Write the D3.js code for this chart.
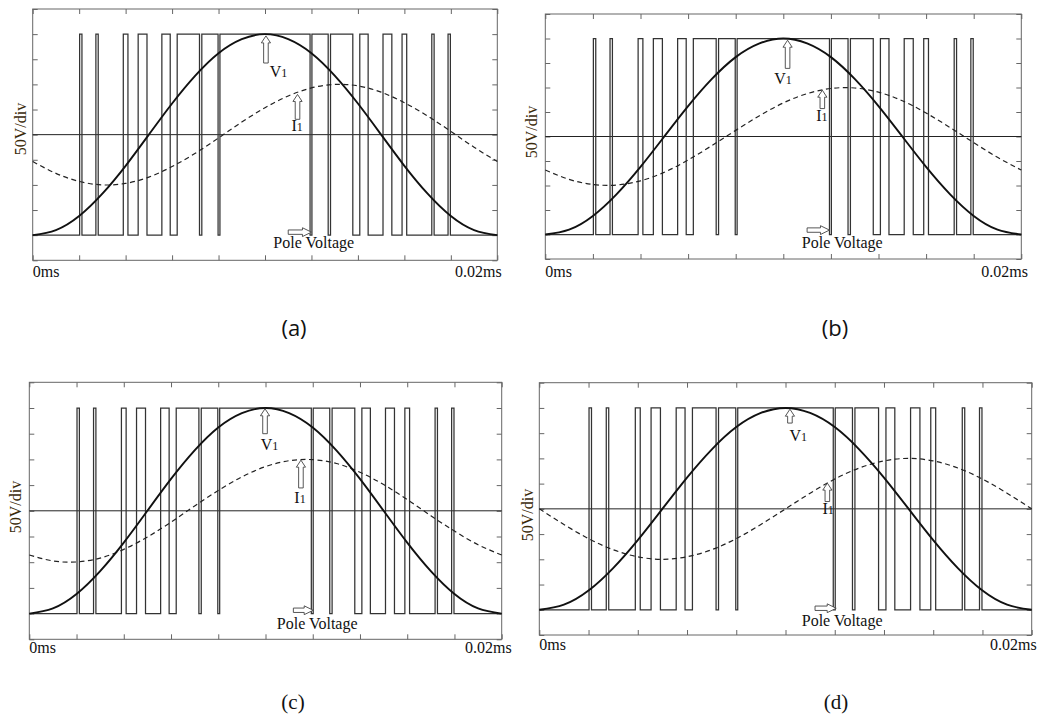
<!DOCTYPE html>
<html>
<head>
<meta charset="utf-8">
<script src="https://cdn.jsdelivr.net/npm/d3@7"></script>
<style>
  body { margin: 0; background: #fff; }
  text { font-family: "Liberation Serif", "Times New Roman", serif; }
</style>
</head>
<body>
<svg id="chart" width="1039" height="715"></svg>
<script>
// values in scope divisions: time 0..10 div (0 .. 0.02ms), voltage -5..5 div
let time_labels = ["0ms", "0.02ms"]
let y_label = "50V/div"
let captions = ["(a)", "(b)", "(c)", "(d)"]

let x_ticks = [0, 1, 2, 3, 4, 5, 6, 7, 8, 9, 10]
let y_ticks = [-5, -4, -3, -2, -1, 0, 1, 2, 3, 4, 5]

let sample_times = [0, 0.5, 1, 1.5, 2, 2.5, 3, 3.5, 4, 4.5, 5,
                    5.5, 6, 6.5, 7, 7.5, 8, 8.5, 9, 9.5, 10]

let v1_values = [-4.00, -3.80, -3.24, -2.35, -1.24, 0.00, 1.24, 2.35, 3.24, 3.80, 4.00,
                 3.80, 3.24, 2.35, 1.24, 0.00, -1.24, -2.35, -3.24, -3.80, -4.00]

let i1_a = [-1.07, -1.54, -1.86, -2.00, -1.94, -1.69, -1.27, -0.74, -0.13, 0.50, 1.07,
            1.54, 1.86, 2.00, 1.94, 1.69, 1.27, 0.74, 0.13, -0.50, -1.07]
let i1_b = [-1.37, -1.75, -1.96, -1.98, -1.81, -1.46, -0.96, -0.37, 0.25, 0.85, 1.37,
            1.75, 1.96, 1.98, 1.81, 1.46, 0.96, 0.37, -0.25, -0.85, -1.37]
let i1_c = [-1.72, -1.95, -1.99, -1.84, -1.50, -1.02, -0.44, 0.19, 0.79, 1.32, 1.72,
            1.95, 1.99, 1.84, 1.50, 1.02, 0.44, -0.19, -0.79, -1.32, -1.72]
let i1_d = [0.00, -0.62, -1.18, -1.62, -1.90, -2.00, -1.90, -1.62, -1.18, -0.62, 0.00,
            0.62, 1.18, 1.62, 1.90, 2.00, 1.90, 1.62, 1.18, 0.62, 0.00]

// pole voltage switching instants (starts low), and its two levels
let pole_edges = [1.01, 1.06, 1.36, 1.41, 1.95, 2.05, 2.27, 2.46, 2.78, 2.96,
                  3.11, 3.59, 3.64, 3.99, 4.03, 5.97, 6.01, 6.36, 6.41, 6.89,
                  7.04, 7.22, 7.54, 7.73, 7.95, 8.05, 8.59, 8.64, 8.94, 8.99]
let pole_levels = [-4, 4]

// layout of the four scope frames and their annotations (data coords)
let panels = [
  { left: 32.7, right: 497.3, top: 9, bottom: 260.3, i1: i1_a,
    tick_dy: 17, end_dx: 4.4, ylab: [25.5, 129], cap: [294, 336], cap_font: "Open Sans", cap_size: 22,
    v1_arrow: [5.02, 3.93, 2.85], v1_label: [5.1, 2.3],
    i1_arrow: [5.70, 1.6, 0.61], i1_label: [5.57, 0.15],
    pole_arrow: [5.50, 6.0, -3.88], pole_label: [5.18, -4.52] },
  { left: 545.3, right: 1021.3, top: 14, bottom: 259, i1: i1_b,
    tick_dy: 17.5, end_dx: 6.7, ylab: [537, 132], cap: [835, 336], cap_font: "Open Sans", cap_size: 22,
    v1_arrow: [5.09, 3.93, 2.78], v1_label: [4.81, 2.16],
    i1_arrow: [5.82, 1.89, 1.14], i1_label: [5.69, 0.64],
    pole_arrow: [5.50, 5.97, -3.82], pole_label: [5.39, -4.57] },
  { left: 29.3, right: 501.7, top: 382.3, bottom: 639.3, i1: i1_c,
    tick_dy: 14, end_dx: 10, ylab: [21, 507], cap: [293, 709], cap_font: "Liberation Serif", cap_size: 21,
    v1_arrow: [4.99, 3.97, 3.0], v1_label: [4.9, 2.36],
    i1_arrow: [5.75, 1.97, 0.89], i1_label: [5.61, 0.29],
    pole_arrow: [5.59, 6.01, -3.87], pole_label: [5.24, -4.59] },
  { left: 539.3, right: 1031.7, top: 382.7, bottom: 635, i1: i1_d,
    tick_dy: 15, end_dx: 5, ylab: [533, 515], cap: [836, 709], cap_font: "Liberation Serif", cap_size: 21,
    v1_arrow: [5.09, 3.95, 3.4], v1_label: [5.08, 2.69],
    i1_arrow: [5.85, 1.02, 0.29], i1_label: [5.75, -0.2],
    pole_arrow: [5.6, 6.03, -3.94], pole_label: [5.33, -4.64] }
]

let svg = d3.select("#chart")

function up_arrow(x, y_tip, y_tail) {
  let sw = 2.3, hw = 4.6, hl = 7
  return "M" + x + "," + y_tip +
    "L" + (x + hw) + "," + (y_tip + hl) + "L" + (x + sw) + "," + (y_tip + hl) +
    "L" + (x + sw) + "," + y_tail + "L" + (x - sw) + "," + y_tail +
    "L" + (x - sw) + "," + (y_tip + hl) + "L" + (x - hw) + "," + (y_tip + hl) + "Z"
}

function right_arrow(x_tail, x_tip, y) {
  let sw = 2.2, hw = 4.4, hl = 9
  return "M" + x_tip + "," + y +
    "L" + (x_tip - hl) + "," + (y - hw) + "L" + (x_tip - hl) + "," + (y - sw) +
    "L" + x_tail + "," + (y - sw) + "L" + x_tail + "," + (y + sw) +
    "L" + (x_tip - hl) + "," + (y + sw) + "L" + (x_tip - hl) + "," + (y + hw) + "Z"
}

function sub_label(g, x, y, main, sub) {
  let t = g.append("text")
      .attr("x", x)
      .attr("y", y)
      .style("font-size", "16px")
      .style("fill", "#111")
  t.append("tspan").text(main)
  t.append("tspan").text(sub).style("font-size", "12px")
}

panels.forEach(function(p, k) {
  let x = d3.scaleLinear().domain([0, 10]).range([p.left, p.right])
  let y = d3.scaleLinear().domain([-5, 5]).range([p.bottom, p.top])
  let g = svg.append("g")

  // inward ticks on all four sides
  let axes = [
    [d3.axisBottom(x).tickValues(x_ticks), "translate(0," + p.top + ")"],
    [d3.axisTop(x).tickValues(x_ticks), "translate(0," + p.bottom + ")"],
    [d3.axisRight(y).tickValues(y_ticks), "translate(" + p.left + ",0)"],
    [d3.axisLeft(y).tickValues(y_ticks), "translate(" + p.right + ",0)"]
  ]
  axes.forEach(function(a) {
    let ax = g.append("g")
        .attr("transform", a[1])
        .call(a[0].tickSize(5).tickFormat(""))
    ax.select(".domain").remove()
    ax.selectAll("line").style("stroke", "#666").style("stroke-width", 1)
  })

  g.append("rect")
      .attr("x", p.left)
      .attr("y", p.top)
      .attr("width", p.right - p.left)
      .attr("height", p.bottom - p.top)
      .style("fill", "none")
      .style("stroke", "#666")
      .style("stroke-width", 1)

  g.append("line")
      .attr("x1", x(0)).attr("x2", x(10))
      .attr("y1", y(0)).attr("y2", y(0))
      .style("stroke", "#222")
      .style("stroke-width", 1)

  // pole voltage as a step trace
  let level = 0
  let pole_pts = [[0, pole_levels[0]]]
  pole_edges.forEach(function(e) {
    level = 1 - level
    pole_pts.push([e, pole_levels[level]])
  })
  pole_pts.push([10, pole_levels[level]])

  g.append("path")
      .datum(pole_pts)
      .attr("d", d3.line()
        .x(function(d) { return x(d[0]) })
        .y(function(d) { return y(d[1]) })
        .curve(d3.curveStepAfter))
      .style("fill", "none")
      .style("stroke", "#333")
      .style("stroke-width", 1.25)

  let curve = d3.line()
      .x(function(d) { return x(d[0]) })
      .y(function(d) { return y(d[1]) })
      .curve(d3.curveNatural)

  g.append("path")
      .datum(sample_times.map(function(t, i) { return [t, p.i1[i]] }))
      .attr("d", curve)
      .style("fill", "none")
      .style("stroke", "#222")
      .style("stroke-width", 1.2)
      .style("stroke-dasharray", "5,3.5")

  g.append("path")
      .datum(sample_times.map(function(t, i) { return [t, v1_values[i]] }))
      .attr("d", curve)
      .style("fill", "none")
      .style("stroke", "#111")
      .style("stroke-width", 1.9)

  // annotations
  let arrow_style = function(s) {
    s.style("fill", "#fff").style("stroke", "#444").style("stroke-width", 0.9)
  }
  g.append("path")
      .attr("d", up_arrow(x(p.v1_arrow[0]), y(p.v1_arrow[1]), y(p.v1_arrow[2])))
      .call(arrow_style)
  g.append("path")
      .attr("d", up_arrow(x(p.i1_arrow[0]), y(p.i1_arrow[1]), y(p.i1_arrow[2])))
      .call(arrow_style)
  g.append("path")
      .attr("d", right_arrow(x(p.pole_arrow[0]), x(p.pole_arrow[1]), y(p.pole_arrow[2])))
      .call(arrow_style)

  sub_label(g, x(p.v1_label[0]), y(p.v1_label[1]), "V", "1")
  sub_label(g, x(p.i1_label[0]), y(p.i1_label[1]), "I", "1")
  g.append("text")
      .attr("x", x(p.pole_label[0]))
      .attr("y", y(p.pole_label[1]))
      .style("font-size", "16px")
      .style("fill", "#111")
      .text("Pole Voltage")

  g.append("text")
      .attr("x", p.left)
      .attr("y", p.bottom + p.tick_dy)
      .style("font-size", "16px")
      .style("fill", "#111")
      .text(time_labels[0])
  g.append("text")
      .attr("x", p.right + p.end_dx)
      .attr("y", p.bottom + p.tick_dy)
      .attr("text-anchor", "end")
      .style("font-size", "16px")
      .style("fill", "#111")
      .text(time_labels[1])

  g.append("text")
      .attr("transform", "translate(" + p.ylab[0] + "," + p.ylab[1] + ") rotate(-90)")
      .attr("text-anchor", "middle")
      .style("font-size", "16px")
      .style("fill", "#3a2a0a")
      .text(y_label)

  svg.append("text")
      .attr("x", p.cap[0])
      .attr("y", p.cap[1])
      .attr("text-anchor", "middle")
      .style("font-family", p.cap_font)
      .style("font-size", p.cap_size + "px")
      .style("fill", "#111")
      .text(captions[k])
})
</script>
</body>
</html>
